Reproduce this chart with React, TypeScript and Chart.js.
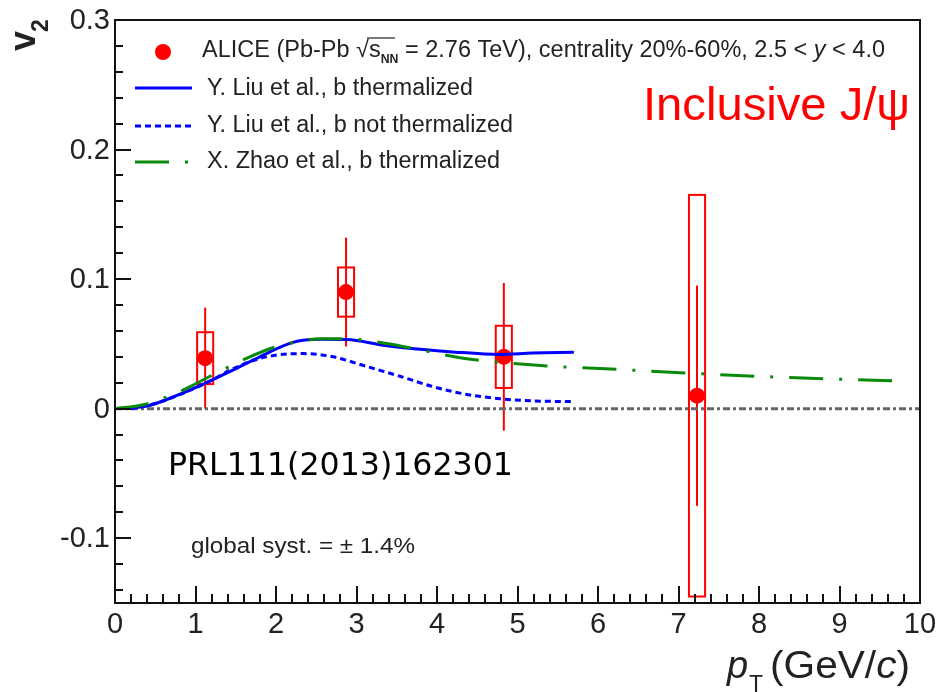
import React, { useEffect, useRef } from "react";
import { Chart, registerables } from "chart.js";
Chart.register(...registerables);

// ---------- data ----------
const X_MIN = 0;
const X_MAX = 10;
const Y_MIN = -0.15;
const Y_MAX = 0.3;
const X_MINOR_STEP = 0.2;
const Y_MINOR_STEP = 0.02;

const xTickValues = [0, 1, 2, 3, 4, 5, 6, 7, 8, 9, 10];
const xTickLabels = ["0", "1", "2", "3", "4", "5", "6", "7", "8", "9", "10"];
const yTickValues = [-0.1, 0, 0.1, 0.2, 0.3];
const yTickLabels = ["-0.1", "0", "0.1", "0.2", "0.3"];

// ALICE inclusive J/psi v2
const aliceX = [1.12, 2.87, 4.83, 7.23];
const aliceY = [0.039, 0.09, 0.04, 0.01];
const aliceStat = [0.039, 0.042, 0.057, 0.085];
const aliceSyst = [0.02, 0.019, 0.024, 0.155];
const aliceBoxHalfWidth = [0.1, 0.1, 0.1, 0.1];

// Y. Liu et al., b thermalized
const liuThermX = [0.2, 0.4, 0.8, 1.13, 1.47, 1.8, 2.2, 2.55, 2.88, 3.33, 3.75, 4.16, 4.78, 5.19, 5.7];
const liuThermY = [0.0005, 0.002, 0.011, 0.02, 0.03, 0.04, 0.051, 0.0535, 0.0533, 0.049, 0.046, 0.044, 0.0418, 0.043, 0.0435];

// Y. Liu et al., b not thermalized
const liuNotX = [0.2, 0.5, 0.85, 1.17, 1.47, 1.88, 2.34, 2.71, 3.13, 3.54, 3.95, 4.37, 4.78, 5.19, 5.7];
const liuNotY = [0.0, 0.004, 0.012, 0.021, 0.031, 0.04, 0.0425, 0.04, 0.0325, 0.025, 0.017, 0.011, 0.0077, 0.006, 0.0054];

// X. Zhao et al., b thermalized
const zhaoX = [0, 0.35, 0.85, 1.18, 1.64, 1.96, 2.3, 2.55, 2.88, 3.3, 3.66, 4.37, 5.36, 6.02, 7.1, 7.97, 8.84, 9.7];
const zhaoY = [0, 0.003, 0.0145, 0.025, 0.039, 0.047, 0.052, 0.054, 0.054, 0.051, 0.047, 0.0385, 0.033, 0.031, 0.0275, 0.025, 0.023, 0.0215];

// zero reference line
const zeroX = [0, 10];
const zeroY = [0, 0];

// ---------- styles ----------
const RED = "#ff0000";
const BLUE = "#0000ff";
const GREEN = "#0a8a0a";
const GREY = "#666666";
const TXT = "#222222";
const SANS = '"Liberation Sans", Arial, Helvetica, sans-serif';

const DASH_DOT = [34, 16, 3, 16];
const DOTTED = [6, 4];
const ZERO_DASH = [7, 3, 3, 3];

const zip = (xs: number[], ys: number[]) => xs.map((x, i) => ({ x, y: ys[i] }));

type Run = { t: string; font: string; dy?: number; overline?: boolean };

function drawRuns(ctx: CanvasRenderingContext2D, runs: Run[], x: number, y: number, color: string, targetW?: number) {
  const widths = runs.map((r) => {
    ctx.font = r.font;
    return ctx.measureText(r.t).width;
  });
  const total = widths.reduce((a, b) => a + b, 0);
  const s = targetW ? targetW / total : 1;
  ctx.save();
  ctx.translate(x, y);
  ctx.scale(s, 1);
  ctx.fillStyle = color;
  ctx.strokeStyle = color;
  ctx.textAlign = "left";
  ctx.textBaseline = "alphabetic";
  let cx = 0;
  runs.forEach((r, i) => {
    ctx.font = r.font;
    ctx.fillText(r.t, cx, r.dy || 0);
    if (r.overline) {
      ctx.lineWidth = 1.2;
      ctx.beginPath();
      ctx.moveTo(cx - 2, -19);
      ctx.lineTo(cx + widths[i] + 14, -19);
      ctx.stroke();
    }
    cx += widths[i];
  });
  ctx.restore();
}

const rootPlugin = {
  id: "rootPlugin",
  beforeDatasetsDraw(chart: any) {
    const ctx: CanvasRenderingContext2D = chart.ctx;
    const xs = chart.scales.x;
    const ys = chart.scales.y;
    ctx.save();
    ctx.strokeStyle = RED;
    ctx.lineWidth = 2;
    aliceX.forEach((xv, i) => {
      const px = xs.getPixelForValue(xv);
      ctx.beginPath();
      ctx.moveTo(px, ys.getPixelForValue(aliceY[i] + aliceStat[i]));
      ctx.lineTo(px, ys.getPixelForValue(aliceY[i] - aliceStat[i]));
      ctx.stroke();
      const x0 = xs.getPixelForValue(xv - aliceBoxHalfWidth[i]);
      const x1 = xs.getPixelForValue(xv + aliceBoxHalfWidth[i]);
      const y0 = ys.getPixelForValue(aliceY[i] + aliceSyst[i]);
      const y1 = ys.getPixelForValue(aliceY[i] - aliceSyst[i]);
      ctx.strokeRect(x0, y0, x1 - x0, y1 - y0);
    });
    ctx.restore();
  },
  afterDraw(chart: any) {
    const ctx: CanvasRenderingContext2D = chart.ctx;
    const xs = chart.scales.x;
    const ys = chart.scales.y;
    const { left, right, top, bottom } = chart.chartArea;
    ctx.save();

    // frame
    ctx.strokeStyle = "#111";
    ctx.lineWidth = 2;
    ctx.strokeRect(left, top, right - left, bottom - top);

    // y ticks (inward)
    for (let k = Math.ceil(Y_MIN / Y_MINOR_STEP - 1e-9); k * Y_MINOR_STEP <= Y_MAX + 1e-9; k++) {
      const v = k * Y_MINOR_STEP;
      const py = Math.round(ys.getPixelForValue(v));
      const major = Math.abs(k) % 5 === 0;
      ctx.beginPath();
      ctx.moveTo(left, py);
      ctx.lineTo(left + (major ? 16 : 8), py);
      ctx.stroke();
    }
    // x ticks (inward)
    for (let k = 0; k * X_MINOR_STEP <= X_MAX + 1e-9; k++) {
      const v = k * X_MINOR_STEP;
      const px = Math.round(xs.getPixelForValue(v));
      const major = k % 5 === 0;
      ctx.beginPath();
      ctx.moveTo(px, bottom);
      ctx.lineTo(px, bottom - (major ? 17 : 9));
      ctx.stroke();
    }

    // tick labels
    ctx.fillStyle = TXT;
    ctx.font = `29px ${SANS}`;
    ctx.textAlign = "right";
    ctx.textBaseline = "middle";
    yTickValues.forEach((v, i) => {
      ctx.fillText(yTickLabels[i], left - 5, ys.getPixelForValue(v) + 1);
    });
    ctx.textAlign = "center";
    xTickValues.forEach((v, i) => {
      ctx.fillText(xTickLabels[i], xs.getPixelForValue(v), bottom + 22);
    });

    // y title v_2 (rotated)
    ctx.save();
    ctx.translate(35, 51);
    ctx.rotate(-Math.PI / 2);
    ctx.textAlign = "left";
    ctx.textBaseline = "alphabetic";
    ctx.font = `bold 36px ${SANS}`;
    ctx.fillText("v", 0, 0);
    ctx.font = `bold 23px ${SANS}`;
    ctx.fillText("2", 19, 13);
    ctx.restore();

    // x title p_T (GeV/c)
    drawRuns(ctx, [{ t: "p", font: `italic 38px ${SANS}` }], 727, 678, TXT);
    drawRuns(ctx, [{ t: "T", font: `23px ${SANS}` }], 749, 692, TXT);
    drawRuns(
      ctx,
      [
        { t: "(GeV/", font: `38px ${SANS}` },
        { t: "c", font: `italic 38px ${SANS}` },
        { t: ")", font: `38px ${SANS}` },
      ],
      770,
      678,
      TXT,
      140
    );

    // legend
    const lf = `23px ${SANS}`;
    ctx.fillStyle = RED;
    ctx.beginPath();
    ctx.arc(163, 52, 8, 0, Math.PI * 2);
    ctx.fill();
    const legLine = (y: number, color: string, dash: number[]) => {
      ctx.save();
      ctx.strokeStyle = color;
      ctx.lineWidth = 3;
      ctx.setLineDash(dash);
      ctx.beginPath();
      ctx.moveTo(135, y);
      ctx.lineTo(192, y);
      ctx.stroke();
      ctx.restore();
    };
    legLine(88, BLUE, []);
    legLine(126, BLUE, DOTTED);
    legLine(162, GREEN, DASH_DOT);

    drawRuns(
      ctx,
      [
        { t: "ALICE (Pb-Pb ", font: lf },
        { t: "\u221A", font: lf },
        { t: "s", font: lf, overline: true },
        { t: "NN", font: `bold 12px ${SANS}`, dy: 6 },
        { t: " = 2.76 TeV), centrality 20%-60%, 2.5 < ", font: lf },
        { t: "y", font: `italic ${lf}` },
        { t: " < 4.0", font: lf },
      ],
      202,
      57,
      TXT,
      683
    );
    drawRuns(ctx, [{ t: "Y. Liu et al., b thermalized", font: lf }], 207, 95, TXT, 266);
    drawRuns(ctx, [{ t: "Y. Liu et al., b not thermalized", font: lf }], 207, 132, TXT, 306);
    drawRuns(ctx, [{ t: "X. Zhao et al., b thermalized", font: lf }], 207, 168, TXT, 293);

    // annotations
    drawRuns(ctx, [{ t: "Inclusive J/\u03C8", font: `47px ${SANS}` }], 643, 120, RED, 267);
    drawRuns(ctx, [{ t: "PRL111(2013)162301", font: `32px "DejaVu Sans", sans-serif` }], 168, 475, "#000", 345);
    drawRuns(ctx, [{ t: "global syst. = \u00B1 1.4%", font: `22px ${SANS}` }], 191, 553, TXT, 224);

    ctx.restore();
  },
};

export default function App() {
  const ref = useRef<HTMLCanvasElement | null>(null);
  useEffect(() => {
    if (!ref.current) return;
    const lineDs = (label: string, xs: number[], ys: number[], color: string, dash: number[], width = 3) => ({
      type: "line" as const,
      label,
      data: zip(xs, ys),
      borderColor: color,
      borderWidth: width,
      borderDash: dash,
      pointRadius: 0,
      fill: false,
      showLine: true,
      cubicInterpolationMode: "monotone" as const,
    });
    const chart = new Chart(ref.current, {
      type: "scatter",
      data: {
        datasets: [
          lineDs("X. Zhao et al., b thermalized", zhaoX, zhaoY, GREEN, DASH_DOT),
          lineDs("Y. Liu et al., b thermalized", liuThermX, liuThermY, BLUE, []),
          lineDs("Y. Liu et al., b not thermalized", liuNotX, liuNotY, BLUE, DOTTED),
          lineDs("zero", zeroX, zeroY, GREY, ZERO_DASH, 3),
          {
            type: "scatter" as const,
            label: "ALICE",
            data: zip(aliceX, aliceY),
            pointRadius: 8,
            pointBackgroundColor: RED,
            pointBorderWidth: 0,
            borderColor: RED,
            backgroundColor: RED,
          },
        ] as any,
      },
      options: {
        responsive: false,
        animation: false,
        layout: { padding: { left: 115, right: 20, top: 20, bottom: 89 } },
        plugins: { legend: { display: false }, tooltip: { enabled: false } },
        scales: {
          x: { type: "linear", min: X_MIN, max: X_MAX, display: false },
          y: { type: "linear", min: Y_MIN, max: Y_MAX, display: false },
        },
      },
      plugins: [rootPlugin],
    });
    return () => chart.destroy();
  }, []);
  return (
    <div style={{ position: "fixed", left: 0, top: 0, width: 940, height: 692, background: "#fff" }}>
      <canvas ref={ref} width={940} height={692} style={{ display: "block" }} />
    </div>
  );
}
